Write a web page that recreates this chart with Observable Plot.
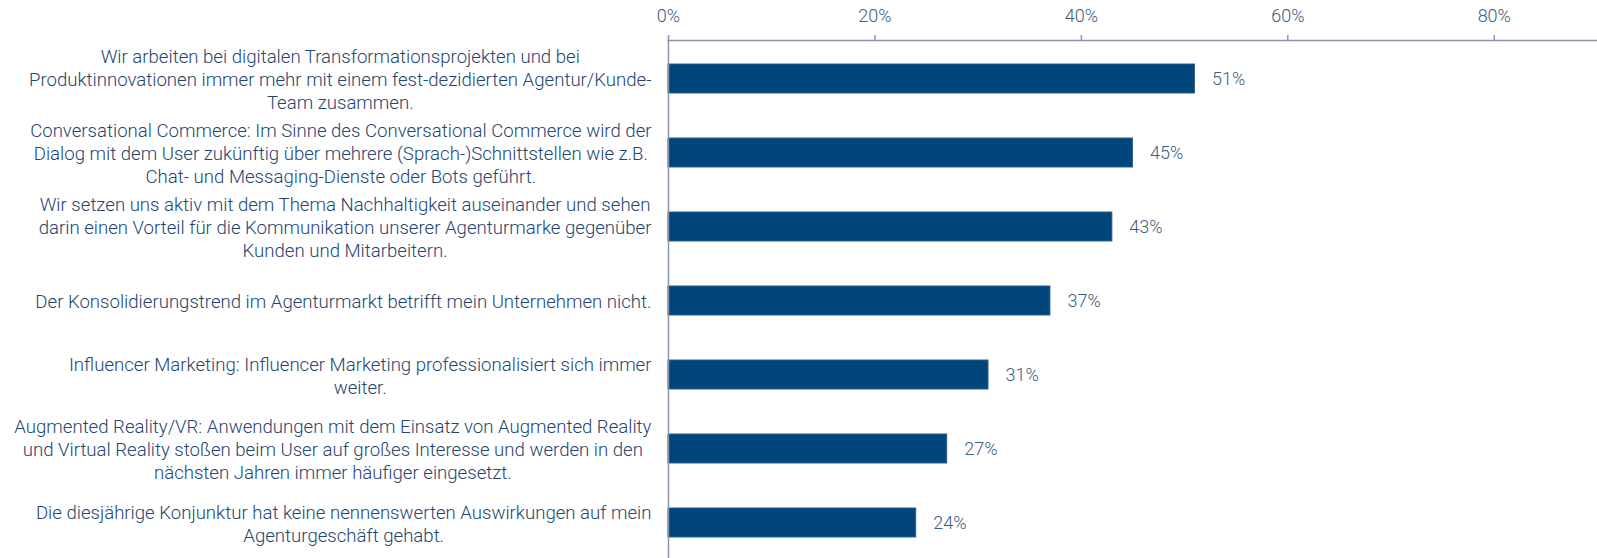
<!DOCTYPE html>
<html>
<head>
<meta charset="utf-8">
<script src="https://cdn.jsdelivr.net/npm/d3@7"></script>
<script src="https://cdn.jsdelivr.net/npm/@observablehq/plot@0.6"></script>
<style>
  html, body { margin: 0; padding: 0; background: #fff; }
  #chart svg { display: block; }
</style>
</head>
<body>
<div id="chart"></div>
<script>
const categories = [
  "Wir arbeiten bei digitalen Transformationsprojekten und bei\nProduktinnovationen immer mehr mit einem fest-dezidierten Agentur/Kunde-\nTeam zusammen.",
  "Conversational Commerce: Im Sinne des Conversational Commerce wird der\nDialog mit dem User zukünftig über mehrere (Sprach-)Schnittstellen wie z.B.\nChat- und Messaging-Dienste oder Bots geführt.",
  "Wir setzen uns aktiv mit dem Thema Nachhaltigkeit auseinander und sehen\ndarin einen Vorteil für die Kommunikation unserer Agenturmarke gegenüber\nKunden und Mitarbeitern.",
  "Der Konsolidierungstrend im Agenturmarkt betrifft mein Unternehmen nicht.",
  "Influencer Marketing: Influencer Marketing professionalisiert sich immer\nweiter.",
  "Augmented Reality/VR: Anwendungen mit dem Einsatz von Augmented Reality\nund Virtual Reality stoßen beim User auf großes Interesse und werden in den\nnächsten Jahren immer häufiger eingesetzt.",
  "Die diesjährige Konjunktur hat keine nennenswerten Auswirkungen auf mein\nAgenturgeschäft gehabt."
];
const values = [51, 45, 43, 37, 31, 27, 24];
const xTicks = [0, 20, 40, 60, 80];

const data = categories.map((c, i) => ({label: c, value: values[i]}));

const FONT = "Roboto, 'Open Sans', sans-serif";
const LABEL_RIGHT = 651;

const plot = Plot.plot({
  width: 1597,
  height: 558,
  marginLeft: 668,
  marginRight: 0,
  marginTop: 40,
  marginBottom: -3,
  style: {fontFamily: FONT, background: "#fff", overflow: "hidden"},
  x: {domain: [0, 90], axis: null},
  y: {domain: categories, axis: null, paddingInner: 0.61, paddingOuter: 0.305},
  marks: [
    Plot.frame({anchor: "top", stroke: "#8c95a5", strokeWidth: 1.5}),
    Plot.axisX({
      anchor: "top", ticks: xTicks, tickFormat: d => d + "%",
      tickSize: 6, tickPadding: 13, stroke: "#8c95a5", strokeWidth: 1.5,
      fill: "#3d5c80", fontSize: 18, fontWeight: 300, label: null
    }),
    Plot.barX(data, {x: "value", y: "label", fill: "#02457a", stroke: "#2e5f8e", strokeWidth: 1}),
    Plot.ruleX([0], {stroke: "#8c95a5", strokeWidth: 1.5}),
    Plot.text(data, {x: "value", y: "label", text: d => d.value + "%", dx: 17, textAnchor: "start",
      fill: "#3d5c80", fontSize: 18, fontWeight: 300}),
    Plot.text(data, {x: () => 0, y: "label", text: "label", textAnchor: "middle", lineAnchor: "middle",
      lineHeight: 1.24, fill: "#24456e", fontSize: 18.6, fontWeight: 300})
  ]
});
document.getElementById("chart").appendChild(plot);

// position each centred label block so its widest line ends at LABEL_RIGHT
const labelGroup = [...plot.querySelectorAll("g[aria-label='text']")].pop();
labelGroup.querySelectorAll("text").forEach(t => {
  const bb = t.getBBox();
  const tr = t.getAttribute("transform") || "";
  const m = /translate\(([^,]+),([^)]+)\)/.exec(tr);
  const y = m ? +m[2] : 0;
  t.setAttribute("transform", `translate(${LABEL_RIGHT - bb.width / 2},${y})`);
});
</script>
</body>
</html>
